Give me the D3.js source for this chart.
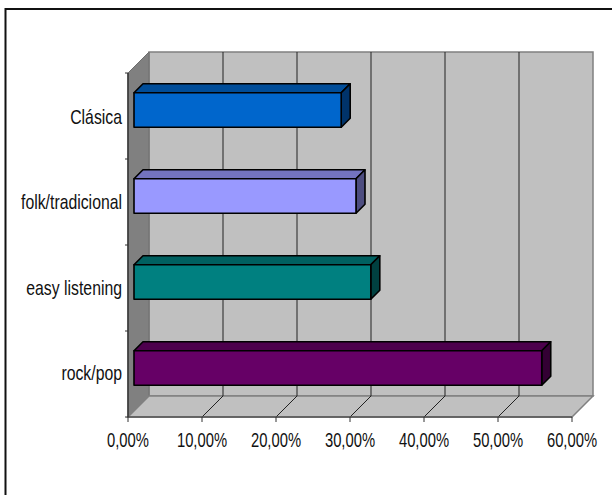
<!DOCTYPE html>
<html>
<head>
<meta charset="utf-8">
<script src="https://cdn.jsdelivr.net/npm/d3@7"></script>
<style>
html,body{margin:0;padding:0;background:#fff}
svg{display:block}
text{font-family:"Liberation Sans",Arial,sans-serif;font-size:20px;fill:#111}
</style>
</head>
<body>
<svg id="chart" width="612" height="495"></svg>
<script>
const categories = ["Clásica", "folk/tradicional", "easy listening", "rock/pop"];
const shares = [28, 30, 32, 55.1];
const frontColors = ["#0066CC", "#9999FF", "#008080", "#660066"];
const topColors = ["#004D99", "#7373BF", "#006060", "#4D004D"];
const sideColors = ["#00336A", "#4D4D80", "#004040", "#330033"];
const xTicks = [0, 10, 20, 30, 40, 50, 60];
const tickFormat = d => d.toFixed(2).replace(".", ",") + "%";

const svg = d3.select("#chart");
const x = d3.scaleLinear().domain([0, 60]).range([128, 572]);
const y = d3.scaleBand().domain(categories).range([73, 417]);
const labelY = d3.scalePoint().domain(categories).range([124, 380]);
const depth = 21;
const barInset = 6;
const barDepth = 9;
const barHeight = 34.5;
const poly = pts => pts.map(p => p.join(",")).join(" ");

// Labels are set in a horizontally condensed face
const condensed = (px, py, sx, anchor, label) =>
  svg.append("text").attr("transform", `translate(${px},${py}) scale(${sx},1)`)
    .attr("text-anchor", anchor).text(label);

// Outer frame: the top and left edges
svg.append("polyline").attr("points", poly([[612, 9], [5.5, 9], [5.5, 495]]))
  .attr("fill", "none").attr("stroke", "#111").attr("stroke-width", 2);

const plotLeft = x(0), plotRight = x(60), plotTop = y.range()[0], plotBottom = y.range()[1];

// Back wall, side wall and floor of the 3D box
svg.append("polygon")
  .attr("points", poly([[plotLeft + depth, plotTop - depth], [plotRight + depth, plotTop - depth], [plotRight + depth, plotBottom - depth], [plotLeft + depth, plotBottom - depth]]))
  .attr("fill", "#C0C0C0").attr("stroke", "#808080").attr("stroke-width", 1.5);
svg.append("polygon")
  .attr("points", poly([[plotLeft, plotTop], [plotLeft + depth, plotTop - depth], [plotLeft + depth, plotBottom - depth], [plotLeft, plotBottom]]))
  .attr("fill", "#808080").attr("stroke", "#6e6e6e");
svg.append("polygon")
  .attr("points", poly([[plotLeft, plotBottom], [plotLeft + depth, plotBottom - depth], [plotRight + depth, plotBottom - depth], [plotRight, plotBottom]]))
  .attr("fill", "#C0C0C0").attr("stroke", "#808080").attr("stroke-width", 1.5);

// Gridlines on the wall and floor
xTicks.slice(1, -1).forEach(t => {
  svg.append("polyline")
    .attr("points", poly([[x(t), plotBottom], [x(t) + depth, plotBottom - depth], [x(t) + depth, plotTop - depth]]))
    .attr("fill", "none").attr("stroke", "#222").attr("stroke-width", 1);
});

// Axis lines and ticks
svg.append("line").attr("x1", plotLeft).attr("x2", plotRight).attr("y1", plotBottom).attr("y2", plotBottom).attr("stroke", "#555").attr("stroke-width", 1.5);
svg.append("line").attr("x1", plotLeft).attr("x2", plotLeft).attr("y1", plotTop).attr("y2", plotBottom).attr("stroke", "#333").attr("stroke-width", 1.5);
xTicks.forEach(t => {
  svg.append("line").attr("x1", x(t)).attr("x2", x(t)).attr("y1", plotBottom).attr("y2", plotBottom + 5).attr("stroke", "#333");
  condensed(x(t), plotBottom + 30, 0.74, "middle", tickFormat(t));
});
d3.range(5).forEach(i => {
  const ty = plotTop + i * y.step();
  svg.append("line").attr("x1", plotLeft - 3).attr("x2", plotLeft).attr("y1", ty).attr("y2", ty).attr("stroke", "#333");
});

// Category labels
categories.forEach(c => {
  condensed(122, labelY(c), 0.79, "end", c);
});

// Bars, drawn as a front face with top and side faces
categories.forEach((c, i) => {
  const x0 = x(0) + barInset, x1 = x(shares[i]) + barInset;
  const yc = y(c) + y.bandwidth() / 2 - barInset;
  const y0 = yc - barHeight / 2, y1 = yc + barHeight / 2;
  const g = svg.append("g").attr("stroke", "#000").attr("stroke-width", 1.6).attr("stroke-linejoin", "round");
  g.append("polygon").attr("points", poly([[x0, y0], [x0 + barDepth, y0 - barDepth], [x1 + barDepth, y0 - barDepth], [x1, y0]])).attr("fill", topColors[i]);
  g.append("polygon").attr("points", poly([[x1, y0], [x1 + barDepth, y0 - barDepth], [x1 + barDepth, y1 - barDepth], [x1, y1]])).attr("fill", sideColors[i]);
  g.append("rect").attr("x", x0).attr("y", y0).attr("width", x1 - x0).attr("height", y1 - y0).attr("fill", frontColors[i]);
});
</script>
</body>
</html>
